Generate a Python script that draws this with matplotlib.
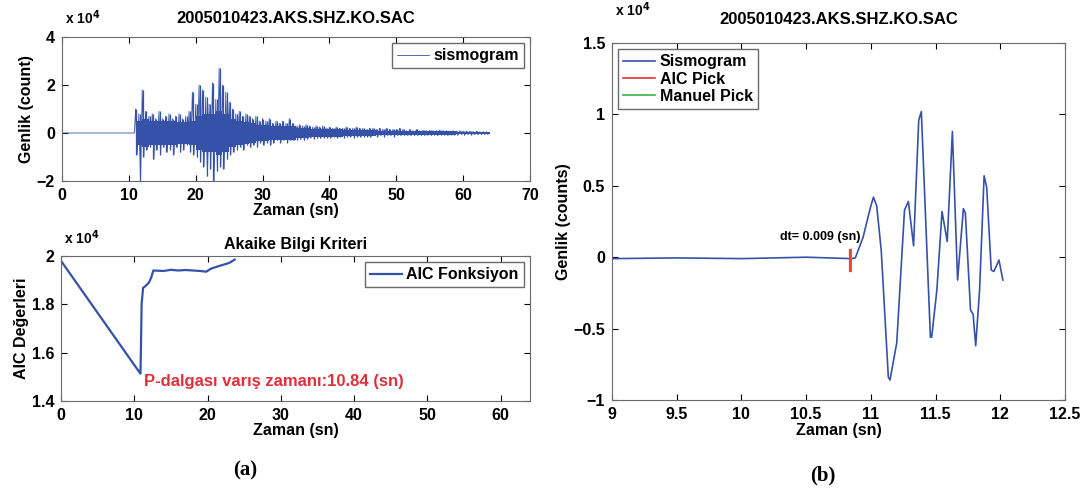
import matplotlib
matplotlib.use("Agg")
import matplotlib.pyplot as plt
import numpy as np

plt.rcParams['font.family'] = ['Liberation Sans', 'DejaVu Sans']
plt.rcParams['font.weight'] = 'bold'
plt.rcParams['axes.labelweight'] = 'bold'
plt.rcParams['axes.titleweight'] = 'bold'

# --- DONNEES (unites x 10^4) ---
baslik = "2005010423.AKS.SHZ.KO.SAC"

# sismogram complet : pics haut / bas par tranche de 0.5 s a partir de 11 s
sis_t0 = 11.0
sis_dt = 0.5
sis_ust = [1.0, 0.8, 1.8, 0.9, 0.7, 0.8, 0.6, 0.9, 0.6, 0.7,
           0.8, 0.6, 0.7, 0.8, 0.6, 0.7, 0.9, 1.7, 1.2, 2.0,
           1.8, 1.5, 1.2, 2.1, 1.4, 2.7, 2.0, 1.7, 1.3, 1.0,
           0.8, 0.9, 0.7, 0.8, 0.7, 0.6, 0.7, 0.5, 0.6, 0.5,
           0.6, 0.4, 0.5, 0.4, 0.5, 0.4, 0.6, 0.4, 0.3, 0.35,
           0.3, 0.35, 0.3, 0.25, 0.3, 0.25, 0.3, 0.2, 0.25, 0.2,
           0.25, 0.2, 0.2, 0.25, 0.2, 0.2, 0.25, 0.2, 0.2, 0.15,
           0.2, 0.2, 0.15, 0.2, 0.15, 0.2, 0.15, 0.15, 0.15, 0.2,
           0.15, 0.1, 0.15, 0.1, 0.15, 0.1, 0.12, 0.1, 0.12, 0.1,
           0.1, 0.12, 0.1, 0.1, 0.08, 0.1, 0.08, 0.1, 0.08, 0.08,
           0.08, 0.06, 0.08, 0.06, 0.06, 0.05]
sis_alt = [-0.9, -2.1, -1.0, -0.7, -0.6, -1.1, -0.7, -0.9, -0.6, -0.8,
           -0.7, -0.9, -0.6, -0.8, -0.7, -0.5, -0.8, -0.9, -1.0, -1.2,
           -1.4, -1.8, -1.5, -2.0, -1.6, -1.4, -1.5, -1.1, -0.9, -0.8,
           -0.7, -0.6, -0.7, -0.5, -0.6, -0.5, -0.6, -0.4, -0.5, -0.4,
           -0.5, -0.4, -0.3, -0.4, -0.3, -0.4, -0.3, -0.3, -0.3, -0.25,
           -0.3, -0.25, -0.2, -0.25, -0.2, -0.2, -0.2, -0.2, -0.2, -0.15,
           -0.2, -0.15, -0.2, -0.15, -0.15, -0.2, -0.15, -0.15, -0.15, -0.15,
           -0.15, -0.1, -0.15, -0.1, -0.15, -0.1, -0.1, -0.15, -0.1, -0.1,
           -0.1, -0.1, -0.1, -0.1, -0.1, -0.1, -0.1, -0.08, -0.1, -0.08,
           -0.1, -0.08, -0.08, -0.1, -0.08, -0.08, -0.08, -0.06, -0.08, -0.06,
           -0.08, -0.06, -0.06, -0.06, -0.05, -0.04]
# yogun cekirdek bandinin yari genisligi, 1 s tranche (11 .. 63 s)
cek_t = [11, 12, 13, 14, 15, 16, 17, 18, 19, 20, 21, 22, 23, 24, 25, 26, 27,
         28, 29, 30, 31, 32, 33, 34, 35, 36, 37, 38, 39, 40, 41, 42, 43, 44,
         45, 46, 47, 48, 49, 50, 51, 52, 53, 54, 55, 56, 57, 58, 59, 60, 61,
         62, 63, 64]
cek_v = [0.5, 0.6, 0.5, 0.5, 0.5, 0.5, 0.45, 0.45, 0.5, 0.7, 0.8, 0.8, 0.9,
         0.8, 0.6, 0.5, 0.45, 0.4, 0.35, 0.35, 0.3, 0.3, 0.3, 0.3, 0.2, 0.2,
         0.18, 0.18, 0.15, 0.15, 0.15, 0.13, 0.13, 0.12, 0.12, 0.11, 0.1, 0.1,
         0.1, 0.1, 0.09, 0.09, 0.08, 0.08, 0.08, 0.07, 0.07, 0.07, 0.06, 0.06,
         0.06, 0.05, 0.05, 0.05]

# AIC fonksiyonu
aic_t = [0, 10.84, 10.9, 11.0, 11.2, 11.5, 12.0, 12.3, 12.6, 14.0, 15.0,
         16.0, 17.0, 18.0, 19.0, 19.8, 20.5, 21.5, 22.5, 23.0, 23.7]
aic_v = [1.98, 1.513, 1.60, 1.80, 1.868, 1.875, 1.89, 1.91, 1.94, 1.938, 1.943,
         1.94, 1.942, 1.94, 1.938, 1.935, 1.948, 1.958, 1.967, 1.972, 1.985]

# sismogram yakin plan (b)
yak_t = [9.0, 9.5, 10.0, 10.5, 10.85, 10.88, 10.94, 11.0, 11.02, 11.045, 11.08,
         11.135, 11.148, 11.2, 11.26, 11.29, 11.33, 11.37, 11.39, 11.46, 11.47,
         11.51, 11.55, 11.59, 11.63, 11.67, 11.715, 11.73, 11.77, 11.79, 11.81,
         11.84, 11.875, 11.895, 11.93, 11.95, 11.99, 12.02]
yak_v = [-0.01, -0.005, -0.01, 0.0, -0.01, -0.005, 0.14, 0.36, 0.42, 0.36, 0.05,
         -0.84, -0.86, -0.60, 0.33, 0.39, 0.08, 0.96, 1.02, -0.56, -0.56,
         -0.23, 0.32, 0.11, 0.88, -0.16, 0.34, 0.31, -0.37, -0.40, -0.62,
         -0.23, 0.57, 0.49, -0.09, -0.10, -0.02, -0.16]

aic_pick = 10.84
manuel_pick = 10.849
pick_y = [-0.1, 0.05]

mavi = '#3552a8'
W, H = 1085, 496
FS = 11.5


def eksen(l, t, r, b):
    return fig.add_axes([l / W, 1 - b / H, (r - l) / W, (b - t) / H])


def stil(ax, ust_bosluk):
    ax.tick_params(direction='in', top=True, right=True, length=4,
                   labelsize=FS, colors='black', pad=5)
    for s in ax.spines.values():
        s.set_color('#6a6a6a')
        s.set_linewidth(0.8)
    ax.annotate(r'x 10$^{4}$', xy=(0, 1), xycoords='axes fraction',
                xytext=(3, ust_bosluk), textcoords='offset pixels',
                fontsize=10, ha='left', va='bottom')


def lejant(ax, loc):
    return ax.legend(loc=loc, fontsize=FS, fancybox=False, edgecolor='#6a6a6a',
                     handlelength=2.0, handletextpad=0.3, borderpad=0.3,
                     labelspacing=0.15, borderaxespad=0.4, framealpha=1)


fig = plt.figure(figsize=(W / 100, H / 100), dpi=100)

# (a) ust : sismogram
ax1 = eksen(62, 37, 530, 181)
t_list = [0.0, 10.84]
v_list = [0.0, 0.0]
bin_t = []
for i in range(len(sis_ust)):
    t_list += [sis_t0 + i * sis_dt, sis_t0 + i * sis_dt + sis_dt / 2]
    v_list += [sis_ust[i], sis_alt[i]]
    bin_t.append(sis_t0 + i * sis_dt + sis_dt / 4)
cek = np.array(cek_v)
ax1.fill_between(cek_t, -cek, cek, step='post', color=mavi, lw=0)
ax1.plot(t_list, v_list, color=mavi, lw=0.6, label='sismogram')
ax1.vlines(bin_t, sis_alt, sis_ust, color=mavi, lw=0.9)
ax1.set_xlim(0, 70)
ax1.set_ylim(-2, 4)
ax1.set_xticks(range(0, 71, 10))
ax1.set_yticks([-2, 0, 2, 4])
ax1.set_title(baslik, fontsize=12, pad=10)
ax1.set_xlabel('Zaman (sn)', fontsize=FS, labelpad=0)
ax1.set_ylabel('Genlik (count)', fontsize=FS, labelpad=2)
lejant(ax1, 'upper right')
stil(ax1, 10)

# (a) alt : AIC
ax2 = eksen(61, 256, 530, 401)
ax2.plot(aic_t, aic_v, color=mavi, lw=1.6, label='AIC Fonksiyon')
ax2.set_xlim(0, 64)
ax2.set_ylim(1.4, 2.0)
ax2.set_xticks(range(0, 61, 10))
ax2.set_yticks([1.4, 1.6, 1.8, 2.0])
ax2.set_yticklabels(['1.4', '1.6', '1.8', '2'])
ax2.set_title('Akaike Bilgi Kriteri', fontsize=FS, pad=5)
ax2.set_xlabel('Zaman (sn)', fontsize=FS, labelpad=0)
ax2.set_ylabel('AIC Değerleri', fontsize=FS, labelpad=2)
ax2.text(11.3, 1.48, 'P-dalgası varış zamanı:%.2f (sn)' % aic_pick,
         color='#e0303c', fontsize=12, ha='left', va='center')
lejant(ax2, 'upper right')
stil(ax2, 9)

# (b) yakin plan
ax3 = eksen(612, 43, 1065, 400)
ax3.plot(yak_t, yak_v, color=mavi, lw=1.2, label='Sismogram')
ax3.plot([manuel_pick, manuel_pick], pick_y, color='#3cb043', lw=1.6)
ax3.plot([aic_pick, aic_pick], pick_y, color='#e8452c', lw=1.6)
ax3.plot([], [], color='#e8302c', lw=1.2, label='AIC Pick')
ax3.plot([], [], color='#3cb043', lw=1.2, label='Manuel Pick')
ax3.text(10.30, 0.14, 'dt= %.3f (sn)' % (manuel_pick - aic_pick),
         fontsize=9, ha='left', va='center')
ax3.set_xlim(9, 12.5)
ax3.set_ylim(-1, 1.5)
ax3.set_xticks([9, 9.5, 10, 10.5, 11, 11.5, 12, 12.5])
ax3.set_xticklabels(['9', '9.5', '10', '10.5', '11', '11.5', '12', '12.5'])
ax3.set_yticks([-1, -0.5, 0, 0.5, 1, 1.5])
ax3.set_yticklabels(['\u22121', '\u22120.5', '0', '0.5', '1', '1.5'])
ax3.set_title(baslik, fontsize=12, pad=14)
ax3.set_xlabel('Zaman (sn)', fontsize=FS, labelpad=1)
ax3.set_ylabel('Genlik (counts)', fontsize=FS, labelpad=2)
lejant(ax3, 'upper left')
stil(ax3, 24)

fig.text(245 / W, 1 - 470 / H, '(a)', fontsize=15, family='Liberation Serif',
         weight='bold', ha='center', va='center')
fig.text(823 / W, 1 - 475 / H, '(b)', fontsize=15, family='Liberation Serif',
         weight='bold', ha='center', va='center')

fig.savefig('out.png', dpi=100)
